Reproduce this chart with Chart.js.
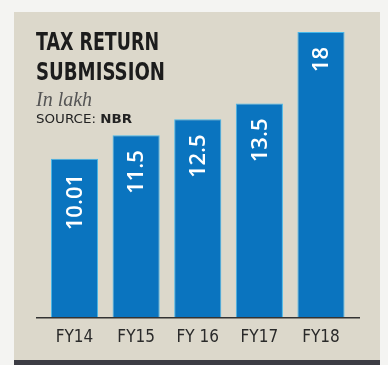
<!DOCTYPE html>
<html><head><meta charset="utf-8">
<script src="https://cdn.jsdelivr.net/npm/chart.js@4/dist/chart.umd.min.js"></script>
<style>html,body{margin:0;padding:0;background:#f4f4f2}#wrap{width:388px;height:365px;position:relative}</style>
</head><body><div id="wrap"><canvas id="c" width="388" height="365"></canvas></div>
<script>
const categories = ['FY14', 'FY15', 'FY 16', 'FY17', 'FY18'];
const values = [10.01, 11.5, 12.5, 13.5, 18];
const valueLabels = ['10.01', '11.5', '12.5', '13.5', '18'];
const titleLines = ['TAX RETURN', 'SUBMISSION'];
const unitText = 'In lakh';
const sourceLabel = 'SOURCE: ';
const sourceName = 'NBR';

function fitText(ctx, text, x, y, targetW) {
  const w = ctx.measureText(text).width;
  ctx.save();
  ctx.translate(x, y);
  ctx.scale(targetW / w, 1);
  ctx.fillText(text, 0, 0);
  ctx.restore();
}

const bgPlugin = {
  id: 'bg',
  beforeDraw(chart) {
    const ctx = chart.ctx;
    ctx.save();
    ctx.fillStyle = '#f4f4f2';
    ctx.fillRect(0, 0, chart.width, chart.height);
    ctx.fillStyle = '#dcd8cb';
    ctx.fillRect(14, 12, 366, 348);
    ctx.fillStyle = '#3c3c44';
    ctx.fillRect(14, 360, 366, 5);
    ctx.fillStyle = '#1c1c1c';
    ctx.textBaseline = 'alphabetic';
    ctx.font = 'bold 24px "DejaVu Sans Condensed", "DejaVu Sans", sans-serif';
    fitText(ctx, titleLines[0], 36, 50, 123);
    fitText(ctx, titleLines[1], 36, 80, 129);
    ctx.fillStyle = '#555';
    ctx.font = 'italic 20px "Liberation Serif", serif';
    ctx.fillText(unitText, 36, 106);
    ctx.fillStyle = '#222';
    ctx.font = '12px "DejaVu Sans", sans-serif';
    const w1 = ctx.measureText(sourceLabel).width;
    ctx.font = 'bold 12px "DejaVu Sans", sans-serif';
    const w2 = ctx.measureText(sourceName).width;
    const s = 96 / (w1 + w2);
    ctx.save();
    ctx.translate(36, 122.5);
    ctx.scale(s, 1);
    ctx.font = '12px "DejaVu Sans", sans-serif';
    ctx.fillText(sourceLabel, 0, 0);
    ctx.font = 'bold 12px "DejaVu Sans", sans-serif';
    ctx.fillText(sourceName, w1, 0);
    ctx.restore();
    ctx.restore();
  },
  afterDatasetsDraw(chart) {
    const ctx = chart.ctx;
    const y0 = chart.scales.y.getPixelForValue(0);
    ctx.save();
    ctx.strokeStyle = '#333';
    ctx.lineWidth = 1.5;
    ctx.beginPath();
    ctx.moveTo(36, y0);
    ctx.lineTo(360, y0);
    ctx.stroke();
    const meta = chart.getDatasetMeta(0);
    ctx.fillStyle = '#ffffff';
    ctx.font = '600 22px "Open Sans", sans-serif';
    meta.data.forEach((bar, i) => {
      ctx.save();
      ctx.translate(bar.x, bar.y + 15);
      ctx.rotate(-Math.PI / 2);
      ctx.textAlign = 'right';
      ctx.textBaseline = 'middle';
      ctx.fillText(valueLabels[i], 0, 1);
      ctx.restore();
    });
    ctx.restore();
  }
};

new Chart(document.getElementById('c'), {
  type: 'bar',
  data: {
    labels: categories,
    datasets: [{
      data: values,
      backgroundColor: '#0a74bf',
      borderColor: '#46b8ea',
      borderWidth: 1,
      barPercentage: 0.765,
      categoryPercentage: 1
    }]
  },
  options: {
    responsive: false,
    animation: false,
    devicePixelRatio: 1,
    layout: { padding: { left: 43.7, right: 36.2, top: 32, bottom: 7 } },
    plugins: { legend: { display: false }, tooltip: { enabled: false } },
    scales: {
      y: { display: false, min: 0, max: 18 },
      x: {
        border: { display: false },
        grid: { display: false, drawTicks: false },
        ticks: {
          color: '#2a2a2a',
          padding: 11,
          font: { family: '"DejaVu Sans Condensed", "DejaVu Sans", sans-serif', size: 17, lineHeight: 1.07 }
        }
      }
    }
  },
  plugins: [bgPlugin]
});
</script></body></html>
